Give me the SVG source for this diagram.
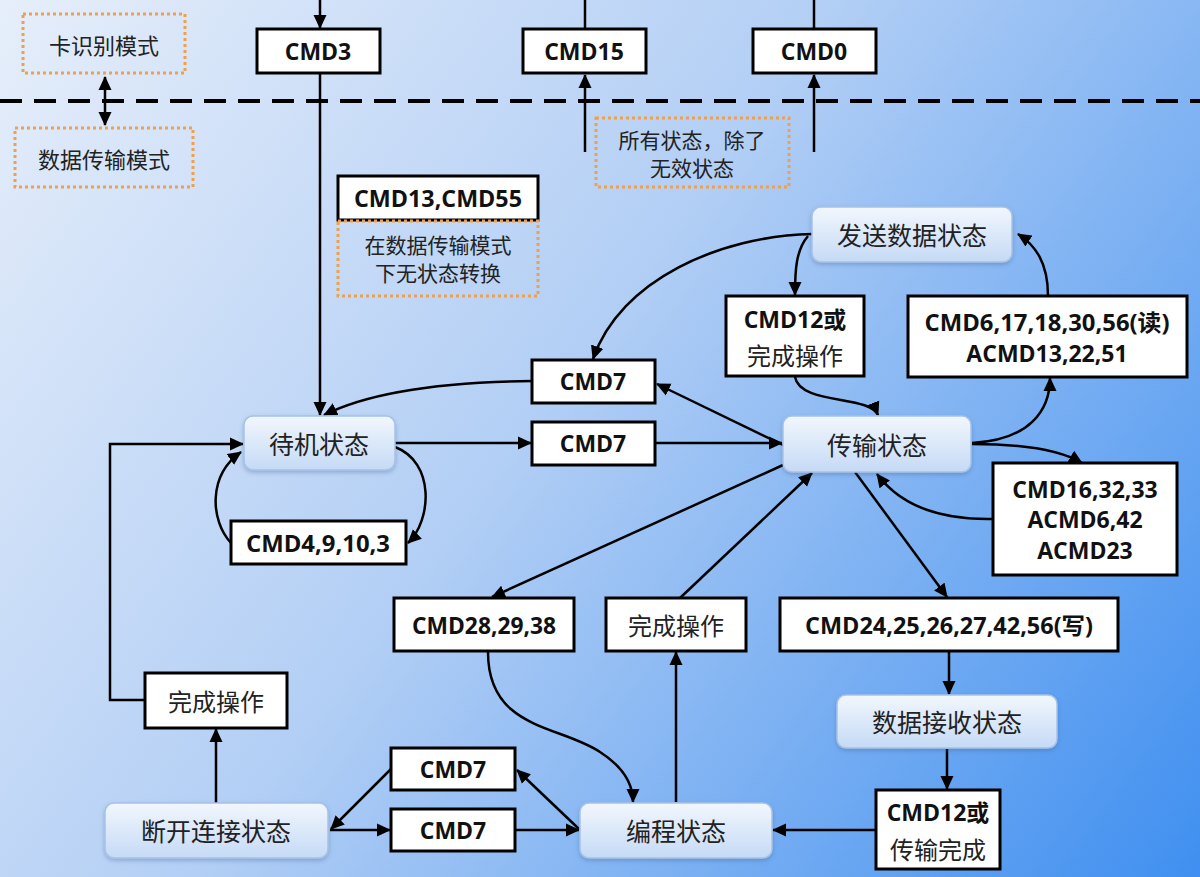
<svg xmlns="http://www.w3.org/2000/svg" width="1200" height="877" viewBox="0 0 1200 877">
<defs>
<linearGradient id="bg" x1="0" y1="0" x2="1200" y2="877" gradientUnits="userSpaceOnUse">
<stop offset="0" stop-color="#e6eefa"/>
<stop offset="0.45" stop-color="#b3cff5"/>
<stop offset="1" stop-color="#3f8ff0"/>
</linearGradient>
<linearGradient id="st" x1="0" y1="0" x2="0" y2="1">
<stop offset="0" stop-color="#f2f7fd"/>
<stop offset="1" stop-color="#c5daf6"/>
</linearGradient>
<filter id="sh" x="-10%" y="-20%" width="120%" height="150%">
<feDropShadow dx="0" dy="2" stdDeviation="2" flood-color="#3a5a8a" flood-opacity="0.35"/>
</filter>
<marker id="ah" markerWidth="14" markerHeight="14" refX="13" refY="7" orient="auto" markerUnits="userSpaceOnUse">
<path d="M0,0.5 L14,7 L0,13.5 z" fill="#000"/>
</marker>
<marker id="as" markerWidth="14" markerHeight="14" refX="1" refY="7" orient="auto" markerUnits="userSpaceOnUse">
<path d="M14,0.5 L0,7 L14,13.5 z" fill="#000"/>
</marker>
</defs>
<style>
.state{fill:url(#st);stroke:#a6c2e8;stroke-width:1.5;filter:url(#sh)}
.box{fill:#fff;stroke:#000;stroke-width:3}
.dot{fill:none;stroke:#f0a04a;stroke-width:3;stroke-dasharray:3 3}
.cn{font-family:"Noto Sans CJK SC","Noto Sans",sans-serif;font-size:25px;fill:#222;text-anchor:middle;dominant-baseline:central}
.cns{font-family:"Noto Sans CJK SC","Noto Sans",sans-serif;font-size:21px;fill:#222;text-anchor:middle;dominant-baseline:central}
.cnb{font-family:"Noto Sans CJK SC","Noto Sans",sans-serif;font-size:24px;fill:#222;text-anchor:middle;dominant-baseline:central}
.cmd{font-family:"Open Sans","Noto Sans CJK SC",sans-serif;font-weight:700;font-size:23px;fill:#111;text-anchor:middle;dominant-baseline:central}
.ln{fill:none;stroke:#000;stroke-width:2.5}
.arr{marker-end:url(#ah)}
</style>
<rect x="0" y="0" width="1200" height="877" fill="url(#bg)"/>

<line x1="0" y1="101" x2="1200" y2="101" stroke="#000" stroke-width="4" stroke-dasharray="22 12"/>

<g id="connectors">
<path class="ln" d="M105,77 L105,125" marker-start="url(#as)" marker-end="url(#ah)"/>
<path class="ln arr" d="M320,0 L320,28"/>
<path class="ln arr" d="M320,74 L320,415"/>
<path class="ln" d="M585,0 L585,29"/>
<path class="ln arr" d="M585,152 L585,75"/>
<path class="ln" d="M814,0 L814,29"/>
<path class="ln arr" d="M814,152 L814,75"/>
<path class="ln arr" d="M395,443 L531,443"/>
<path class="ln arr" d="M655,443 L782,443"/>
<path class="ln arr" d="M785,446 L657,384"/>
<path class="ln arr" d="M532,381 C440,382 370,392 324,415"/>
<path class="ln arr" d="M812,234 C720,236 620,280 593,359"/>
<path class="ln arr" d="M808,236 C796,250 795,270 795,295"/>
<path class="ln arr" d="M795,377 C800,405 870,395 878,415"/>
<path class="ln arr" d="M972,443 C1030,440 1050,410 1050,378"/>
<path class="ln arr" d="M1048,296 C1048,262 1035,245 1018,234"/>
<path class="ln arr" d="M972,444 C1020,444 1060,450 1082,463"/>
<path class="ln arr" d="M993,519 C940,520 900,505 877,474"/>
<path class="ln arr" d="M855,472 L947,597"/>
<path class="ln arr" d="M783,465 L492,597"/>
<path class="ln arr" d="M680,598 L812,473"/>
<path class="ln arr" d="M949,652 L949,694"/>
<path class="ln arr" d="M947,749 L947,789"/>
<path class="ln arr" d="M876,830 L773,830"/>
<path class="ln arr" d="M676,802 L676,652"/>
<path class="ln arr" d="M488,652 C488,730 560,725 600,752 C625,768 633,785 633,802"/>
<path class="ln arr" d="M330,830 L390,830"/>
<path class="ln arr" d="M515,830 L579,830"/>
<path class="ln arr" d="M579,829 L517,770"/>
<path class="ln arr" d="M391,769 L331,829"/>
<path class="ln arr" d="M216,803 L216,729"/>
<path class="ln arr" d="M145,700 L110,700 L110,444 L243,444"/>
<path class="ln arr" d="M231,543 C210,520 208,475 241,452"/>
<path class="ln arr" d="M395,447 C435,462 432,520 408,543"/>
</g>

<g id="legend-card">
<rect class="dot" x="23" y="14" width="162" height="59"/>
<text class="cns" x="104" y="44" style="font-size:22px">卡识别模式</text>
</g>
<g id="legend-data">
<rect class="dot" x="15" y="128" width="178" height="59"/>
<text class="cns" x="104" y="158" style="font-size:22px">数据传输模式</text>
</g>

<g id="cmd3"><rect class="box" x="257" y="29" width="123" height="44"/><text class="cmd" x="318" y="51">CMD3</text></g>
<g id="cmd15"><rect class="box" x="523" y="29" width="123" height="44"/><text class="cmd" x="584" y="51">CMD15</text></g>
<g id="cmd0"><rect class="box" x="753" y="29" width="123" height="44"/><text class="cmd" x="814" y="51">CMD0</text></g>

<g id="note-all">
<rect class="dot" x="596" y="118" width="193" height="69"/>
<text class="cns" x="692" y="139">所有状态，除了</text>
<text class="cns" x="692" y="167">无效状态</text>
</g>

<g id="cmd13">
<rect class="box" x="338" y="176" width="200" height="44"/>
<text class="cmd" x="438" y="198" textLength="168" lengthAdjust="spacingAndGlyphs">CMD13,CMD55</text>
<rect class="dot" x="338" y="221" width="200" height="75"/>
<text class="cns" x="438" y="244">在数据传输模式</text>
<text class="cns" x="438" y="272">下无状态转换</text>
</g>

<g id="standby"><rect class="state" x="244" y="416" width="151" height="54" rx="9"/><text class="cn" x="319" y="443">待机状态</text></g>
<g id="transfer"><rect class="state" x="783" y="416" width="188" height="56" rx="9"/><text class="cn" x="877" y="444">传输状态</text></g>
<g id="send"><rect class="state" x="812" y="207" width="200" height="55" rx="9"/><text class="cn" x="912" y="234">发送数据状态</text></g>
<g id="receive"><rect class="state" x="837" y="695" width="220" height="53" rx="9"/><text class="cn" x="947" y="721">数据接收状态</text></g>
<g id="program"><rect class="state" x="580" y="803" width="192" height="55" rx="9"/><text class="cn" x="676" y="830">编程状态</text></g>
<g id="disconnect"><rect class="state" x="105" y="803" width="223" height="55" rx="9"/><text class="cn" x="216" y="830">断开连接状态</text></g>

<g id="cmd7a"><rect class="box" x="532" y="360" width="123" height="43"/><text class="cmd" x="593" y="381">CMD7</text></g>
<g id="cmd7b"><rect class="box" x="532" y="422" width="123" height="43"/><text class="cmd" x="593" y="443">CMD7</text></g>
<g id="cmd4"><rect class="box" x="231" y="521" width="175" height="43"/><text class="cmd" x="318" y="543" textLength="144" lengthAdjust="spacingAndGlyphs">CMD4,9,10,3</text></g>
<g id="cmd12a">
<rect class="box" x="726" y="296" width="138" height="80"/>
<text class="cmd" x="795" y="319">CMD12或</text>
<text class="cnb" x="795" y="354">完成操作</text>
</g>
<g id="cmd6">
<rect class="box" x="908" y="296" width="279" height="81"/>
<text class="cmd" x="1047" y="322" textLength="245" lengthAdjust="spacingAndGlyphs">CMD6,17,18,30,56(读)</text>
<text class="cmd" x="1047" y="353">ACMD13,22,51</text>
</g>
<g id="cmd16">
<rect class="box" x="993" y="463" width="184" height="112"/>
<text class="cmd" x="1085" y="489">CMD16,32,33</text>
<text class="cmd" x="1085" y="519">ACMD6,42</text>
<text class="cmd" x="1085" y="550">ACMD23</text>
</g>
<g id="cmd28"><rect class="box" x="394" y="598" width="180" height="53"/><text class="cmd" x="484" y="625" textLength="144" lengthAdjust="spacingAndGlyphs">CMD28,29,38</text></g>
<g id="done-mid"><rect class="box" x="606" y="598" width="140" height="53"/><text class="cnb" x="676" y="624">完成操作</text></g>
<g id="cmd24"><rect class="box" x="780" y="598" width="338" height="53"/><text class="cmd" x="949" y="625" textLength="288" lengthAdjust="spacingAndGlyphs">CMD24,25,26,27,42,56(写)</text></g>
<g id="cmd12b">
<rect class="box" x="876" y="790" width="124" height="79"/>
<text class="cmd" x="938" y="812">CMD12或</text>
<text class="cnb" x="938" y="848">传输完成</text>
</g>
<g id="done-left"><rect class="box" x="145" y="673" width="142" height="55"/><text class="cnb" x="216" y="700">完成操作</text></g>
<g id="cmd7c"><rect class="box" x="391" y="748" width="124" height="42"/><text class="cmd" x="453" y="769">CMD7</text></g>
<g id="cmd7d"><rect class="box" x="391" y="809" width="124" height="42"/><text class="cmd" x="453" y="830">CMD7</text></g>
</svg>
